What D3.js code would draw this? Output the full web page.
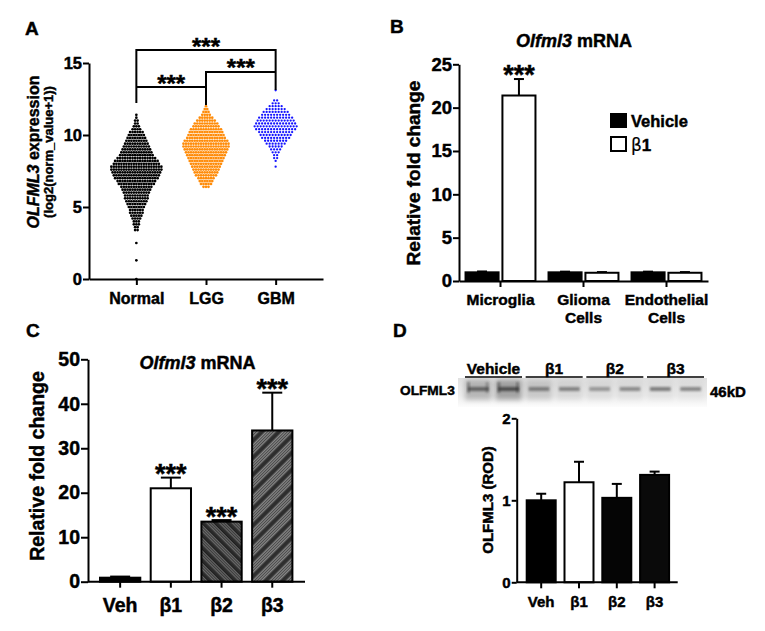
<!DOCTYPE html>
<html><head><meta charset="utf-8">
<script src="https://cdn.jsdelivr.net/npm/d3@7"></script>
<style>
body{margin:0;background:#fff;}
svg{display:block;}
svg text{font-weight:bold;stroke:#000;stroke-width:0.45px;}
</style></head><body>
<svg id="fig" width="765" height="631"></svg>
<script>
// ================= DATA =================
// Panel A: swarm rows: [log2(norm_value+1), dots in that row]
const groupsA = ["Normal", "LGG", "GBM"];
const colorsA = ["#000000", "#ff8c0a", "#1414ff"];
const normalBins = [[11.4,1],[11.2,1],[11.0,2],[10.8,2],[10.6,3],[10.4,4],[10.2,6],[10.0,7],[9.8,8],[9.6,9],[9.4,10],[9.2,11],[9.0,12],[8.8,13],[8.6,14],[8.4,16],[8.2,18],[8.0,19],[7.8,21],[7.6,21],[7.4,20],[7.2,19],[7.0,18],[6.8,16],[6.6,15],[6.4,13],[6.2,12],[6.0,11],[5.8,10],[5.6,10],[5.4,9],[5.2,8],[5.0,7],[4.8,6],[4.6,6],[4.4,5],[4.2,4],[4.0,3],[3.8,3],[3.6,2],[3.4,2],[2.5,1],[1.3,1],[0.0,1]];
const lggBins = [[12.0,1],[11.8,2],[11.6,3],[11.4,4],[11.2,6],[11.0,8],[10.8,10],[10.6,11],[10.4,13],[10.2,14],[10.0,15],[9.8,16],[9.6,18],[9.4,19],[9.2,19],[9.0,18],[8.8,17],[8.6,16],[8.4,15],[8.2,14],[8.0,13],[7.8,12],[7.6,11],[7.4,10],[7.2,9],[7.0,7],[6.8,6],[6.6,5],[6.4,3]];
const gbmBins = [[13.1,1],[12.4,2],[12.2,3],[12.0,5],[11.8,7],[11.6,9],[11.4,10],[11.2,12],[11.0,13],[10.8,14],[10.6,15],[10.4,14],[10.2,12],[10.0,11],[9.8,10],[9.6,8],[9.4,7],[9.2,5],[9.0,4],[8.8,3],[8.6,2],[8.4,2],[8.2,1],[7.8,1]];
const yTicksA = [0, 5, 10, 15];

// Panel B
const cellTypes = [["Microglia"], ["Glioma", "Cells"], ["Endothelial", "Cells"]];
const seriesB = ["Vehicle", "β1"];
const vehicleFoldB = [1.0, 1.0, 1.0];
const vehicleErrB = [0.1, 0.08, 0.08];
const beta1FoldB = [21.4, 0.95, 0.95];
const beta1ErrB = [1.9, 0.08, 0.08];
const sigB = ["***", "", ""];
const yTicksB = [0, 5, 10, 15, 20, 25];

// Panel C
const treatments = ["Veh", "β1", "β2", "β3"];
const foldC = [0.9, 21.0, 13.5, 34.0];
const errC = [0.25, 2.4, 0.35, 8.5];
const sigC = ["", "***", "***", "***"];
const yTicksC = [0, 10, 20, 30, 40, 50];

// Panel D
const rodD = [1.0, 1.22, 1.03, 1.31];
const rodErrD = [0.08, 0.25, 0.17, 0.04];
const yTicksD = [0, 1, 2];
const blotGroups = ["Vehicle", "β1", "β2", "β3"];
const blotBand = [0.55, 0.65, 0.45, 0.45, 0.35, 0.42, 0.5, 0.45];
const blotHalo = [0.22, 0.3, 0.14, 0.08, 0.06, 0.05, 0.04, 0.03];

// ================= DRAW =================
const FONT = "'Liberation Sans', Arial, Helvetica, sans-serif";
const svg = d3.select("#fig").attr("font-family", FONT);

function styleAxis(g, fs) {
  g.attr("font-family", FONT).attr("font-size", fs).attr("font-weight", "bold");
  g.selectAll("path.domain").attr("stroke", "#000").attr("stroke-width", 2);
  g.selectAll(".tick line").attr("stroke", "#000").attr("stroke-width", 2);
  g.selectAll(".tick text").attr("fill", "#000").attr("font-weight", "bold");
}
function label(x, y, s, fs, anchor) {
  return svg.append("text").attr("x", x).attr("y", y).attr("font-size", fs)
    .attr("font-weight", "bold").attr("text-anchor", anchor || "start").attr("fill", "#000").text(s);
}
function stars(x, yc, fs) {
  svg.append("text").attr("x", x).attr("y", yc + 0.56 * fs).attr("font-size", fs)
    .attr("font-weight", "bold").attr("text-anchor", "middle").attr("stroke-width", 0.8).text("***");
}
function rotTitle(x, y, fs) {
  return svg.append("text").attr("transform", `translate(${x},${y}) rotate(-90)`)
    .attr("dy", "0.35em").attr("font-size", fs).attr("font-weight", "bold")
    .attr("text-anchor", "middle").attr("fill", "#000");
}
function italicTitle(x, y, fs) {
  const t = svg.append("text").attr("x", x).attr("y", y).attr("font-size", fs)
    .attr("font-weight", "bold").attr("text-anchor", "middle");
  t.append("tspan").attr("font-style", "italic").text("Olfml3");
  t.append("tspan").text(" mRNA");
}

// ---------- Panel A ----------
label(25, 35, "A", 19);
const yA = d3.scaleLinear().domain([0, 15]).range([279, 63]);
const xA = d3.scalePoint().domain(groupsA).range([89, 323]).padding(0.68);
const swarm = svg.append("g");
[normalBins, lggBins, gbmBins].forEach((bins, gi) => {
  const step = gi === 2 ? 3.0 : 2.5;
  const r = gi === 2 ? 1.15 : 1.35;
  bins.forEach(([v, n]) => {
    for (let i = 0; i < n; i++) {
      swarm.append("circle")
        .attr("cx", xA(groupsA[gi]) + (i - (n - 1) / 2) * step)
        .attr("cy", yA(v)).attr("r", r).attr("fill", colorsA[gi]);
    }
  });
});
const axA = svg.append("g").attr("transform", "translate(89,0)")
  .call(d3.axisLeft(yA).tickValues(yTicksA).tickSize(6).tickSizeOuter(0).tickPadding(1));
styleAxis(axA, 16.5);
const axAx = svg.append("g").attr("transform", "translate(0,279)")
  .call(d3.axisBottom(xA).tickSize(6).tickSizeOuter(0).tickPadding(7.6));
styleAxis(axAx, 16);
const tA = rotTitle(33, 152, 16);
tA.append("tspan").attr("font-style", "italic").text("OLFML3");
tA.append("tspan").text(" expression");
rotTitle(48, 152, 13).text("(log2(norm_value+1))");
// significance brackets
const br = svg.append("g").attr("fill", "none").attr("stroke", "#000").attr("stroke-width", 2);
const xN = xA("Normal"), xL = xA("LGG"), xG = xA("GBM");
br.append("path").attr("d", `M${xN},${yA(12.22)}V${yA(15.9)}H${xG}V${yA(13.12)}`);
br.append("path").attr("d", `M${xL},${yA(12.08)}V${yA(14.375)}H${xG}`);
br.append("path").attr("d", `M${xN},${yA(13.33)}H${xL}`);
stars((xN + xG) / 2, yA(15.9) - 8, 24);
stars((xL + xG) / 2, yA(14.375) - 9, 24);
stars((xN + xL) / 2, yA(13.33) - 8, 24);

// ---------- Panel B ----------
label(390, 33, "B", 19);
italicTitle(574, 47, 18);
const yB = d3.scaleLinear().domain([0, 25]).range([281, 64.3]);
const xB0 = d3.scaleBand().domain(cellTypes.map(d => d.join(" "))).range([459, 708]);
const xB1 = d3.scaleBand().domain(seriesB).range([0, xB0.bandwidth()]).paddingInner(0.05).paddingOuter(0.15);
const barsB = svg.append("g");
cellTypes.forEach((c, i) => {
  const key = c.join(" ");
  [[vehicleFoldB[i], vehicleErrB[i], "#000", seriesB[0]], [beta1FoldB[i], beta1ErrB[i], "#fff", seriesB[1]]].forEach(([v, e, fill, s]) => {
    const x = xB0(key) + xB1(s), w = xB1.bandwidth(), cx = x + w / 2;
    barsB.append("line").attr("x1", cx).attr("x2", cx).attr("y1", yB(v)).attr("y2", yB(v + e)).attr("stroke", "#000").attr("stroke-width", 2);
    barsB.append("line").attr("x1", cx - 5).attr("x2", cx + 5).attr("y1", yB(v + e)).attr("y2", yB(v + e)).attr("stroke", "#000").attr("stroke-width", 2);
    barsB.append("rect").attr("x", x + 1).attr("y", yB(v)).attr("width", w - 2).attr("height", yB(0) - yB(v))
      .attr("fill", fill).attr("stroke", "#000").attr("stroke-width", 2);
    if (s === "β1" && sigB[i]) stars(cx, yB(v + e) - 10, 27);
  });
});
const axB = svg.append("g").attr("transform", "translate(459,0)")
  .call(d3.axisLeft(yB).tickValues(yTicksB).tickSize(6).tickSizeOuter(0).tickPadding(1));
styleAxis(axB, 18.5);
const axBx = svg.append("g").attr("transform", "translate(0,281)")
  .call(d3.axisBottom(xB0).tickSize(6).tickSizeOuter(0).tickFormat(""));
styleAxis(axBx, 15);
cellTypes.forEach(c => {
  const cx = xB0(c.join(" ")) + xB0.bandwidth() / 2;
  c.forEach((line, j) => label(cx, 305 + j * 18, line, 15.5, "middle"));
});
rotTitle(413, 173, 19).text("Relative fold change");
// legend
svg.append("rect").attr("x", 610).attr("y", 113).attr("width", 17).attr("height", 15).attr("fill", "#000");
label(631, 127, seriesB[0], 16.5);
svg.append("rect").attr("x", 611).attr("y", 137).attr("width", 15).attr("height", 14).attr("fill", "#fff").attr("stroke", "#000").attr("stroke-width", 2);
const lg = label(631, 151, "", 17);
lg.append("tspan").attr("font-weight", "normal").attr("stroke-width", 0.2).attr("font-family", "'DejaVu Sans', sans-serif").text("β");
lg.append("tspan").text("1");

// ---------- Panel C ----------
label(26, 337, "C", 19);
italicTitle(197.5, 369, 18);
const yC = d3.scaleLinear().domain([0, 50]).range([581.7, 359.3]);
const xC = d3.scaleBand().domain(treatments).range([99, 293.4]).paddingInner(0.166);
const defs = svg.append("defs");
const p2 = defs.append("pattern").attr("id", "hatchB2").attr("patternUnits", "userSpaceOnUse")
  .attr("width", 9).attr("height", 9).attr("patternTransform", "rotate(-45)");
p2.append("rect").attr("width", 9).attr("height", 9).attr("fill", "#6a6a6a");
[0, 2, 4, 6].forEach(k => p2.append("rect").attr("x", k).attr("width", 1).attr("height", 9).attr("fill", k === 6 ? "#1e1e1e" : "#3a3a3a"));
p2.append("rect").attr("x", 7).attr("width", 2).attr("height", 9).attr("fill", "#2a2a2a");
const p3 = defs.append("pattern").attr("id", "hatchB3").attr("patternUnits", "userSpaceOnUse")
  .attr("width", 12).attr("height", 12).attr("patternTransform", "rotate(45)");
p3.append("rect").attr("width", 12).attr("height", 12).attr("fill", "#8c8c8c");
[0, 2, 4, 6, 8].forEach(k => p3.append("rect").attr("x", k).attr("width", 1).attr("height", 12).attr("fill", "#4a4a4a"));
p3.append("rect").attr("x", 9).attr("width", 3).attr("height", 12).attr("fill", "#2e2e2e");
const fillsC = ["#000", "#fff", "url(#hatchB2)", "url(#hatchB3)"];
treatments.forEach((t, i) => {
  const x = xC(t), w = xC.bandwidth(), cx = x + w / 2, v = foldC[i], e = errC[i];
  svg.append("line").attr("x1", cx).attr("x2", cx).attr("y1", yC(v)).attr("y2", yC(v + e)).attr("stroke", "#000").attr("stroke-width", 2);
  svg.append("line").attr("x1", cx - 10).attr("x2", cx + 10).attr("y1", yC(v + e)).attr("y2", yC(v + e)).attr("stroke", "#000").attr("stroke-width", 2);
  svg.append("rect").attr("x", x + 1).attr("y", yC(v)).attr("width", w - 2).attr("height", yC(0) - yC(v))
    .attr("fill", fillsC[i]).attr("stroke", "#000").attr("stroke-width", 2);
  if (sigC[i]) stars(cx, yC(v + e) - 9.5, 27);
});
const axC = svg.append("g").attr("transform", "translate(88,0)")
  .call(d3.axisLeft(yC).tickValues(yTicksC).tickSize(7).tickSizeOuter(0).tickPadding(1));
styleAxis(axC, 19.5);
const axCx = svg.append("g").attr("transform", "translate(0,581.7)")
  .call(d3.axisBottom(xC).tickSize(6).tickSizeOuter(0).tickPadding(10.5));
axCx.select(".domain").remove();
styleAxis(axCx, 19.5);
svg.append("line").attr("x1", 88).attr("x2", 305).attr("y1", 581.7).attr("y2", 581.7).attr("stroke", "#000").attr("stroke-width", 2);
rotTitle(37, 466, 19.5).text("Relative fold change");

// ---------- Panel D ----------
label(393, 337, "D", 19);
// blot
const blur1 = defs.append("filter").attr("id", "blur1").attr("x", "-30%").attr("y", "-60%").attr("width", "160%").attr("height", "220%");
blur1.append("feGaussianBlur").attr("stdDeviation", 1.1);
const blur2 = defs.append("filter").attr("id", "blur2").attr("x", "-30%").attr("y", "-60%").attr("width", "160%").attr("height", "220%");
blur2.append("feGaussianBlur").attr("stdDeviation", 2.5);
const gradB = defs.append("linearGradient").attr("id", "blotBg").attr("x1", 0).attr("x2", 0).attr("y1", 0).attr("y2", 1);
gradB.append("stop").attr("offset", 0).attr("stop-color", "#e0e0e0");
gradB.append("stop").attr("offset", 0.6).attr("stop-color", "#ececec");
gradB.append("stop").attr("offset", 1).attr("stop-color", "#fcfcfc");
svg.append("rect").attr("x", 458).attr("y", 378).attr("width", 249).attr("height", 29).attr("fill", "url(#blotBg)");
const lanes = d3.scaleBand().domain(d3.range(8)).range([465, 704]).paddingInner(0.12);
d3.range(8).forEach(i => {
  const x = lanes(i), w = lanes.bandwidth();
  svg.append("rect").attr("x", x).attr("y", 380).attr("width", w).attr("height", 20)
    .attr("fill", "#000").attr("opacity", blotHalo[i]).attr("filter", "url(#blur2)");
  svg.append("rect").attr("x", x + 3).attr("y", 387).attr("width", w - 6).attr("height", 4)
    .attr("fill", "#222").attr("opacity", blotBand[i]).attr("filter", "url(#blur1)");
  if (i < 2) {
    svg.append("rect").attr("x", x + 2).attr("y", 382).attr("width", 3).attr("height", 11)
      .attr("fill", "#222").attr("opacity", blotBand[i] * 0.6).attr("filter", "url(#blur1)");
    svg.append("rect").attr("x", x + w - 6).attr("y", 382).attr("width", 3).attr("height", 11)
      .attr("fill", "#222").attr("opacity", blotBand[i] * 0.5).attr("filter", "url(#blur1)");
  }
});
blotGroups.forEach((g, k) => {
  const x1 = lanes(2 * k), x2 = lanes(2 * k + 1) + lanes.bandwidth();
  svg.append("line").attr("x1", x1).attr("x2", x2).attr("y1", 377).attr("y2", 377).attr("stroke", "#000").attr("stroke-width", 1.6);
  label((x1 + x2) / 2, 374, g, 15.5, "middle");
});
label(400, 395, "OLFML3", 13.7);
label(710, 397, "46kD", 15);
// bars
const yD = d3.scaleLinear().domain([0, 2]).range([582.3, 418.3]);
const xD = d3.scaleBand().domain(treatments).range([525.7, 670.1]).paddingInner(0.18);
const fillsD = ["#000", "#fff", "#050505", "#0a0a0a"];
treatments.forEach((t, i) => {
  const x = xD(t), w = xD.bandwidth(), cx = x + w / 2, v = rodD[i], e = rodErrD[i];
  svg.append("line").attr("x1", cx).attr("x2", cx).attr("y1", yD(v)).attr("y2", yD(v + e)).attr("stroke", "#000").attr("stroke-width", 2);
  svg.append("line").attr("x1", cx - 5).attr("x2", cx + 5).attr("y1", yD(v + e)).attr("y2", yD(v + e)).attr("stroke", "#000").attr("stroke-width", 2);
  svg.append("rect").attr("x", x + 1).attr("y", yD(v)).attr("width", w - 2).attr("height", yD(0) - yD(v))
    .attr("fill", fillsD[i]).attr("stroke", "#000").attr("stroke-width", 2);
});
const axD = svg.append("g").attr("transform", "translate(516.7,0)")
  .call(d3.axisLeft(yD).tickValues(yTicksD).tickFormat(d3.format("d")).tickSize(5).tickSizeOuter(0).tickPadding(1));
styleAxis(axD, 15);
const axDx = svg.append("g").attr("transform", "translate(0,582.3)")
  .call(d3.axisBottom(xD).tickSize(6).tickSizeOuter(0).tickPadding(7.7));
axDx.select(".domain").remove();
styleAxis(axDx, 15);
svg.append("line").attr("x1", 516.7).attr("x2", 677.7).attr("y1", 582.3).attr("y2", 582.3).attr("stroke", "#000").attr("stroke-width", 2);
rotTitle(488, 500, 15).text("OLFML3 (ROD)");
</script>
</body></html>
